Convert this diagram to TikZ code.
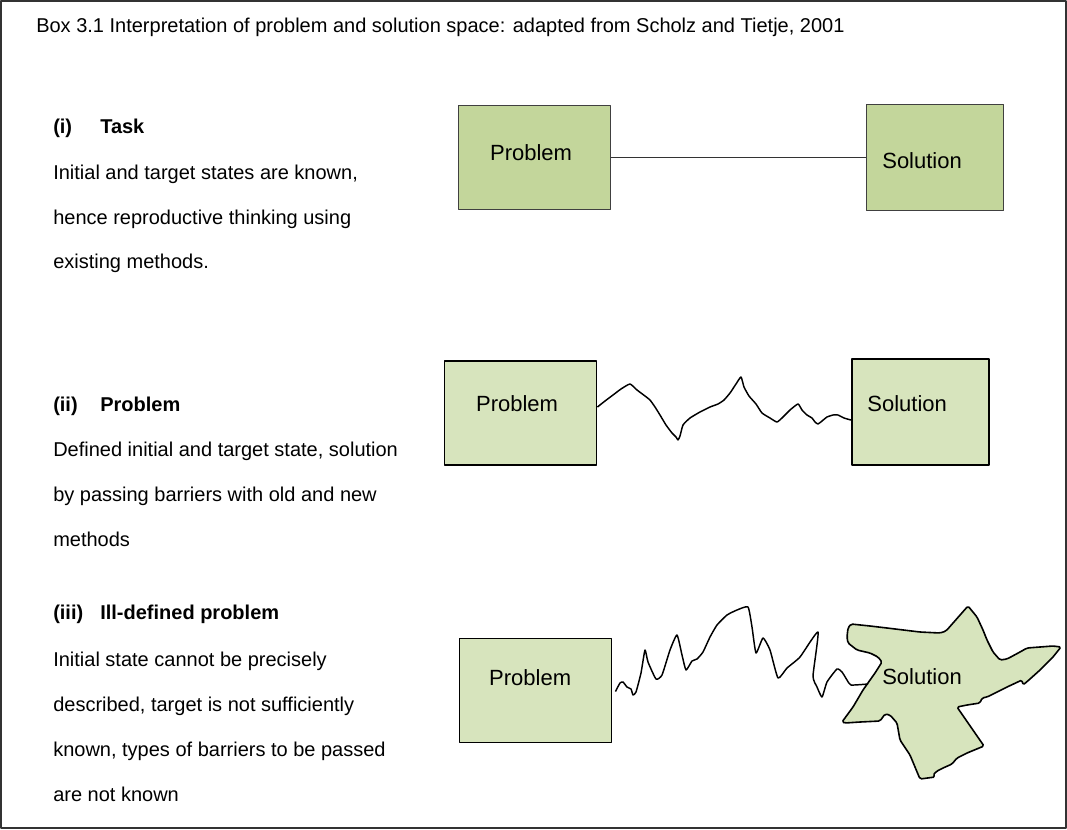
\documentclass[tikz,border=0pt]{standalone}
\usepackage{fontspec}
\setmainfont{Liberation Sans}
\usetikzlibrary{positioning, calc}

\definecolor{taskgreen}{HTML}{C3D69B}
\definecolor{palegreen}{HTML}{D7E4BD}

\begin{document}
\begin{tikzpicture}[x=0.75pt, y=-0.75pt, line join=round,
    txt/.style={anchor=base west, inner sep=0pt, font=\fontsize{15}{18}\selectfont},
    hd/.style={anchor=base west, inner sep=0pt, font=\fontsize{15}{18}\selectfont\bfseries},
    lab/.style={inner sep=0pt, font=\fontsize{16.5}{20}\selectfont},
    taskbox/.style={draw=black!75, line width=0.9pt, fill=taskgreen},
    probbox/.style={draw=black, line width=1.4pt, fill=palegreen},
    psize/.style={minimum width=114pt, minimum height=78pt},
    ssize/.style={minimum width=103pt, minimum height=80pt},
    barrier/.style={black, line width=1.1pt}]

    \useasboundingbox (0,0) rectangle (1067,829);
    \draw[black!80, line width=1.2pt] (1,1) rectangle (1066,828);

    \node[txt] (title) at (36,32) {Box 3.1 Interpretation of problem and solution space: adapted from Scholz and Tietje, 2001};

    % (i) task
    \node[hd] (h1) at (53,133) {(i)};
    \node[hd] (h1t) at (100,133) {Task};
    \node[txt] (t1a) at (53,179) {Initial and target states are known,};
    \node[txt] (t1b) at (53,224) {hence reproductive thinking using};
    \node[txt] (t1c) at (53,268) {existing methods.};

    \node[taskbox, psize, label={[lab, xshift=-2.6pt, yshift=3.4pt]center:Problem}] (P1) at (534.5,157.5) {};
    \node[taskbox, ssize, label={[lab, xshift=-9.7pt, yshift=-2.6pt]center:Solution}] (S1) at (935,157.5) {};
    \draw[black!80, line width=0.9pt] (P1) -- (S1);

    % (ii) problem
    \node[hd] (h2) at (53,411) {(ii)};
    \node[hd] (h2t) at (100,411) {Problem};
    \node[txt] (t2a) at (53,456) {Defined initial and target state, solution};
    \node[txt] (t2b) at (53,501) {by passing barriers with old and new};
    \node[txt] (t2c) at (53,546) {methods};

    \node[probbox, psize, label={[lab, xshift=-2.6pt, yshift=6.7pt]center:Problem}] (P2) at (520.5,413) {};
    \node[probbox, ssize, label={[lab, xshift=-10pt, yshift=6pt]center:Solution}] (S2) at (920.5,412) {};
    \draw[barrier] plot[smooth, tension=0.3] coordinates {($(P2.east)+(0,-6)$)
        (605,401) (613,395) (621,389) (630,384) (637,390) (645,396) (650,400)
        (655,407) (660,415) (666,425) (672,433) (676,437) (678,440) (680,436)
        (683,425) (690,418) (700,412) (710,407) (718,404) (724,400) (730,393)
        (736,384) (741,377) (744,387) (749,396) (756,404) (762,413) (770,418)
        (777,422) (783,417) (790,410) (798,404) (802,410) (807,415) (812,418)
        (815,422) (818,424) (822,421) (827,417) (833,415) (838,415) (844,418)
        ($(S2.west)+(0,8)$)};

    % (iii) ill-defined problem
    \node[hd] (h3) at (53,619) {(iii)};
    \node[hd] (h3t) at (100,619) {Ill-defined problem};
    \node[txt] (t3a) at (53,666) {Initial state cannot be precisely};
    \node[txt] (t3b) at (53,711) {described, target is not sufficiently};
    \node[txt] (t3c) at (53,756) {known, types of barriers to be passed};
    \node[txt] (t3d) at (53,801) {are not known};

    \node[probbox, psize, label={[lab, xshift=-4pt, yshift=10pt]center:Problem}] (P3) at (535.5,690.5) {};

    % solution space with no clear border
    \draw[probbox, line width=1.2pt, rounded corners=1.2pt] (851,624) -- (870,626) -- (887,628)
        -- (920,632) -- (940,633) -- (946,631) -- (968,606) -- (977,617) -- (983,630)
        -- (987,640) -- (993,652) -- (1000,660) -- (1007,659) -- (1020,652) -- (1027,648)
        -- (1040,647) -- (1053,646) -- (1061,647) -- (1053,657) -- (1040,670)
        -- (1030,679) -- (1023,685) -- (1022,680) -- (1007,687) -- (987,697)
        -- (982,698) -- (980,703) -- (967,705) -- (957,707) -- (984,746)
        -- (967,753) -- (957,758) -- (952,764) -- (943,768) -- (937,771)
        -- (933,775) -- (935,777) -- (920,779) -- (915,767) -- (910,755)
        -- (900,740) -- (897,723) -- (890,715) -- (885,714) -- (880,721)
        -- (860,722) -- (845,723) -- (842,722) -- (853,707) -- (863,690)
        -- (875,673) -- (882,662) -- (878,657) -- (870,653) -- (857,650)
        -- (848,643) -- (847,637) -- (848,628) -- cycle;
    \node[lab] (S3) at (922,677) {Solution};
    \coordinate (S3in) at (868,684);

    \draw[barrier] plot[smooth, tension=0.3] coordinates {($(P3.east)+(3,1)$)
        (620,683) (623,682) (627,687) (631,689) (633,695) (636,692) (641,673)
        (645,650) (648,662) (656,679) (662,675) (670,650) (677,635) (682,655)
        (686,670) (692,661) (697,659) (703,652) (710,637) (717,625) (727,615)
        (737,610) (748,607) (752,627) (756,653) (763,638) (770,650) (778,678)
        (787,668) (800,657) (818,632) (813,676) (817,687) (822,697) (827,682)
        (837,669) (842,672) (847,680) (851,685) (S3in)};
\end{tikzpicture}
\end{document}
